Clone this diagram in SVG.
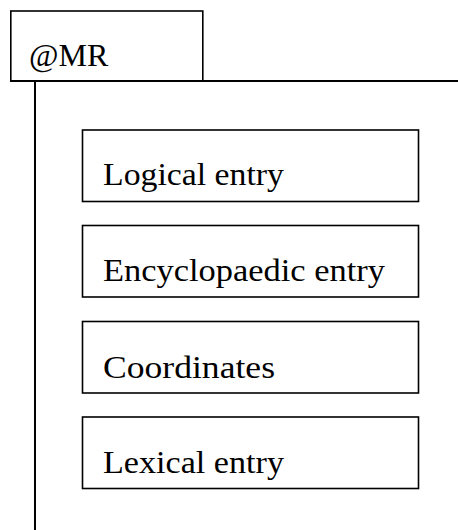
<svg xmlns="http://www.w3.org/2000/svg" width="458" height="530" viewBox="0 0 458 530">
  <style>
    .box { fill: #ffffff; stroke: #000000; stroke-width: 1.6; }
    .rule { fill: none; stroke: #000000; stroke-width: 2; }
    .label { font-family: "Liberation Serif", "Times New Roman", serif; font-size: 32px; fill: #000000; }
  </style>
  <rect width="458" height="530" fill="#ffffff"/>

  <!-- header tab -->
  <g id="mr">
    <rect class="box" x="10.8" y="11" width="192" height="70"/>
    <text class="label" x="29" y="65.5">@MR</text>
  </g>

  <!-- connectors: header rule and the spine running down the left -->
  <g id="connectors">
    <line class="rule" x1="10" y1="81" x2="458" y2="81"/>
    <line class="rule" x1="35" y1="81" x2="35" y2="530"/>
  </g>

  <g id="logical-entry">
    <rect class="box" x="82.5" y="130" width="336" height="71.5"/>
    <text class="label" x="103" y="185" textLength="181" lengthAdjust="spacingAndGlyphs">Logical entry</text>
  </g>

  <g id="encyclopaedic-entry">
    <rect class="box" x="82.5" y="225.5" width="336" height="71.5"/>
    <text class="label" x="103" y="281" textLength="282" lengthAdjust="spacingAndGlyphs">Encyclopaedic entry</text>
  </g>

  <g id="coordinates">
    <rect class="box" x="82.5" y="321.5" width="336" height="71.5"/>
    <text class="label" x="103" y="378" textLength="172" lengthAdjust="spacingAndGlyphs">Coordinates</text>
  </g>

  <g id="lexical-entry">
    <rect class="box" x="82.5" y="417" width="336" height="71.5"/>
    <text class="label" x="103" y="473" textLength="181" lengthAdjust="spacingAndGlyphs">Lexical entry</text>
  </g>
</svg>
